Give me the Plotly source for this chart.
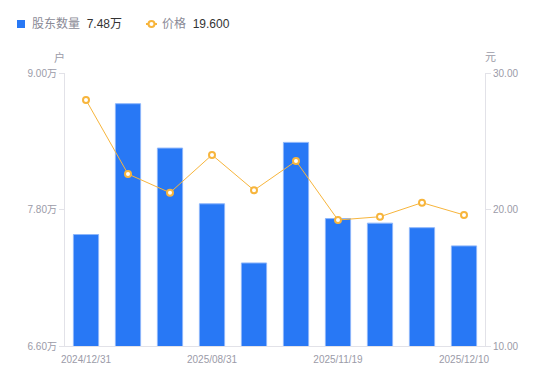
import plotly.graph_objects as go

categories = ["2024/12/31", "2025/03/31", "2025/06/30", "2025/08/31", "2025/09/30",
              "2025/10/31", "2025/11/19", "2025/11/28", "2025/11/30", "2025/12/10"]
holders_wan = [7.58, 8.73, 8.34, 7.85, 7.33, 8.39, 7.72, 7.68, 7.64, 7.48]
price = [28.02, 22.60, 21.23, 24.00, 21.41, 23.55, 19.23, 19.47, 20.50, 19.60]
x_tick_labels = ["2024/12/31", "2025/08/31", "2025/11/19", "2025/12/10"]
left_ticks = [6.60, 7.80, 9.00]
right_ticks = [10.00, 20.00, 30.00]

FONT = "Liberation Sans, Noto Sans CJK SC, sans-serif"
TICK_COLOR = "#9b9ba8"
AXIS_LINE = "#e2e2e8"
BLUE = "#2878f5"
ORANGE = "#f7b53c"

fig = go.Figure()
fig.add_trace(go.Bar(
    x=categories, y=holders_wan, width=0.6,
    marker=dict(color=BLUE, line=dict(color="#8db6fa", width=1)),
    yaxis="y", showlegend=False,
))
fig.add_trace(go.Scatter(
    x=categories, y=price, mode="lines+markers",
    line=dict(color=ORANGE, width=1),
    marker=dict(symbol="circle", size=6, color="white", line=dict(color=ORANGE, width=2)),
    yaxis="y2", showlegend=False,
))

# page has an 8px body margin, so the figure is offset by (8, 8)
fig.update_layout(
    width=542, height=373,
    margin=dict(l=57, r=65, t=65, b=35),
    paper_bgcolor="white", plot_bgcolor="white",
    font=dict(family=FONT, size=10, color=TICK_COLOR),
    bargap=0.4,
    xaxis=dict(
        type="category", tickmode="array", tickvals=x_tick_labels, ticktext=x_tick_labels,
        showgrid=False, showline=True, linecolor=AXIS_LINE, linewidth=1,
        ticks="", tickfont=dict(size=10, color=TICK_COLOR), range=[-0.5, 9.5],
        ticklabelstandoff=4,
    ),
    yaxis=dict(
        range=[6.6, 9.0], tickmode="array", tickvals=left_ticks,
        ticktext=[f"{v:.2f}万" for v in left_ticks],
        showgrid=False, zeroline=False, showline=True, linecolor=AXIS_LINE, linewidth=1,
        ticks="outside", ticklen=5, tickcolor=AXIS_LINE, tickfont=dict(size=10, color=TICK_COLOR),
    ),
    yaxis2=dict(
        range=[10, 30], overlaying="y", side="right", tickmode="array", tickvals=right_ticks,
        ticktext=[f"{v:.2f}" for v in right_ticks],
        showgrid=False, zeroline=False, showline=True, linecolor=AXIS_LINE, linewidth=1,
        ticks="outside", ticklen=5, tickcolor=AXIS_LINE, tickfont=dict(size=10, color=TICK_COLOR),
    ),
)

# axis unit titles
fig.add_annotation(text="户", xref="paper", yref="paper", x=-6/420, y=1 + 16/273,
                   showarrow=False, font=dict(size=11, color=TICK_COLOR), xanchor="center", yanchor="middle")
fig.add_annotation(text="元", xref="paper", yref="paper", x=1 + 5/420, y=1 + 16/273,
                   showarrow=False, font=dict(size=11, color=TICK_COLOR), xanchor="center", yanchor="middle")

# custom legend
fig.add_shape(type="rect", xref="paper", yref="paper",
              x0=-48/420, x1=-40/420, y0=1 + 45/273, y1=1 + 53/273,
              fillcolor=BLUE, line=dict(width=0))
fig.add_annotation(text=f"<span style='color:#8a8a96'>股东数量</span>  <span style='color:#333333'>{holders_wan[-1]:.2f}万</span>",
                   xref="paper", yref="paper", x=-35/420, y=1 + 49/273, showarrow=False,
                   xanchor="left", yanchor="middle", font=dict(size=12, family=FONT))
fig.add_shape(type="line", xref="paper", yref="paper",
              x0=81/420, x1=92/420, y0=1 + 49/273, y1=1 + 49/273,
              line=dict(color=ORANGE, width=2))
fig.add_shape(type="circle", xref="paper", yref="paper",
              x0=83.5/420, x1=89.5/420, y0=1 + 46/273, y1=1 + 52/273,
              fillcolor="white", line=dict(color=ORANGE, width=2))
fig.add_annotation(text=f"<span style='color:#8a8a96'>价格</span>  <span style='color:#333333'>{price[-1]:.3f}</span>",
                   xref="paper", yref="paper", x=95/420, y=1 + 49/273, showarrow=False,
                   xanchor="left", yanchor="middle", font=dict(size=12, family=FONT))

fig.write_html("out.html")
